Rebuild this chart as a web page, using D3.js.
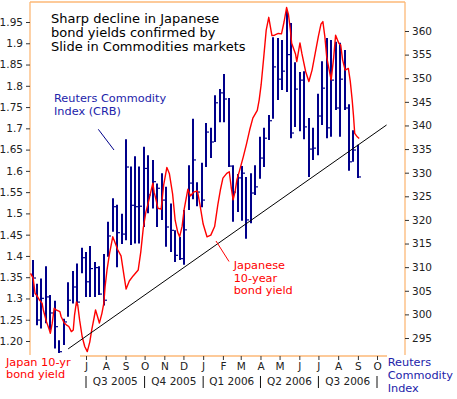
<!DOCTYPE html>
<html lang="en">
<head>
<meta charset="utf-8">
<title>Japanese bond yields vs Reuters Commodity Index</title>
<script src="https://cdn.jsdelivr.net/npm/d3@7"></script>
<style>
  body { margin: 0; background: #fff; }
  svg { display: block; font-family: "DejaVu Sans", Verdana, sans-serif; }
  .axis text { font-size: 10.5px; fill: #222; }
  .axis line { stroke: #333; }
</style>
</head>
<body>
<svg id="chart" width="457" height="399"></svg>
<script>
// ---- data ----
// Reuters Commodity Index, weekly (Fridays) high / low / close
const crbFirst = "2005-04-08";
const crbLast = "2006-09-01";
const crbHigh = [
  311.5, 306.5, 307.6, 310.2, 304.1, 302.9, 294.5, 299.1, 306.8, 309.2,
  310.8, 314.1, 313.2, 314.5, 311.1, 310.2, 312.8, 319.6, 324.6, 323.2,
  321.3, 337.1, 331.3, 333.5, 331.3, 335.5, 333.7, 332.7, 327.7, 329.9,
  327.0, 323.5, 317.8, 316.4, 322.1, 331.6, 341.4, 328.0, 332.1, 340.5,
  339.5, 346.4, 347.7, 350.9, 345.8, 331.6, 329.7, 331.4, 329.1, 329.9,
  331.6, 337.6, 339.5, 342.2, 358.7, 358.5, 358.1, 364.4, 361.7, 353.4,
  351.3, 351.5, 341.6, 339.5, 346.7, 353.6, 358.5, 358.1, 357.7, 357.5,
  356.0, 344.5, 339.0, 335.9];
const crbLow = [
  303.7, 297.7, 297.0, 298.1, 296.7, 292.8, 291.8, 293.5, 299.5, 302.3,
  301.9, 308.7, 303.7, 303.7, 303.7, 304.1, 301.9, 312.2, 317.5, 310.0,
  314.9, 315.7, 314.7, 315.0, 315.0, 318.5, 321.4, 322.4, 318.5, 320.0,
  314.3, 313.2, 311.1, 311.5, 310.5, 322.1, 324.4, 322.9, 322.7, 331.2,
  333.1, 336.5, 340.7, 340.7, 331.2, 319.6, 321.7, 319.8, 316.0, 319.3,
  325.3, 328.7, 331.2, 336.9, 341.4, 345.4, 347.5, 347.1, 337.3, 339.7,
  338.8, 337.1, 329.1, 332.7, 333.7, 340.1, 337.3, 337.6, 343.3, 337.6,
  343.3, 330.4, 332.3, 328.9];
const crbClose = [
  307.7, 298.8, 303.4, 303.7, 300.3, 297.4, 292.1, 298.4, 303.0, 305.8,
  302.6, 312.0, 306.9, 309.7, 309.9, 304.3, 303.0, 316.6, 322.8, 317.3,
  317.0, 331.2, 323.1, 322.8, 322.9, 330.9, 325.3, 328.1, 326.7, 324.2,
  318.5, 317.8, 312.5, 311.8, 317.9, 327.8, 332.7, 325.9, 324.2, 338.6,
  336.5, 344.8, 346.9, 345.6, 331.4, 325.9, 328.9, 329.9, 320.0, 325.7,
  327.0, 333.1, 337.3, 341.0, 352.4, 349.8, 351.5, 355.0, 338.4, 347.7,
  349.6, 339.7, 335.0, 335.2, 342.0, 347.9, 339.5, 349.6, 343.7, 349.8,
  343.7, 332.3, 334.8, 329.1];

// Japan 10-year bond yield
const yieldDates = [
  "2005-04-05","2005-04-09","2005-04-12","2005-04-16","2005-04-19","2005-04-23","2005-04-25","2005-04-30","2005-05-04","2005-05-06",
  "2005-05-09","2005-05-12","2005-05-15","2005-05-21","2005-05-23","2005-05-28","2005-05-31","2005-06-04","2005-06-08","2005-06-11",
  "2005-06-13","2005-06-16","2005-06-18","2005-06-21","2005-06-25","2005-06-29","2005-07-03","2005-07-07","2005-07-10","2005-07-14",
  "2005-07-16","2005-07-20","2005-07-22","2005-07-26","2005-07-29","2005-07-31","2005-08-03","2005-08-07","2005-08-12","2005-08-16",
  "2005-08-20","2005-08-25","2005-08-30","2005-09-02","2005-09-07","2005-09-13","2005-09-21","2005-09-25","2005-09-29","2005-10-03",
  "2005-10-06","2005-10-10","2005-10-14","2005-10-16","2005-10-19","2005-10-22","2005-10-27","2005-10-31","2005-11-05","2005-11-09",
  "2005-11-14","2005-11-18","2005-11-22","2005-11-25","2005-11-29","2005-12-02","2005-12-08","2005-12-12","2005-12-17","2005-12-23",
  "2005-12-27","2006-01-01","2006-01-07","2006-01-13","2006-01-19","2006-01-24","2006-01-28","2006-02-01","2006-02-07","2006-02-11",
  "2006-02-14","2006-02-17","2006-02-20","2006-02-23","2006-02-27","2006-03-05","2006-03-10","2006-03-15","2006-03-20","2006-03-27",
  "2006-03-30","2006-04-02","2006-04-06","2006-04-10","2006-04-14","2006-04-19","2006-04-23","2006-04-29","2006-05-04","2006-05-08",
  "2006-05-12","2006-05-15","2006-05-18","2006-05-20","2006-05-26","2006-05-28","2006-06-02","2006-06-05","2006-06-11","2006-06-16",
  "2006-06-21","2006-06-26","2006-07-01","2006-07-05","2006-07-08","2006-07-11","2006-07-14","2006-07-17","2006-07-21","2006-07-25",
  "2006-07-28","2006-08-02","2006-08-05","2006-08-08","2006-08-12","2006-08-17","2006-08-20","2006-08-23","2006-08-25","2006-08-27",
  "2006-08-31","2006-09-03"];
const yieldValues = [
  1.359, 1.348, 1.312, 1.304, 1.296, 1.289, 1.273, 1.245, 1.228, 1.218,
  1.242, 1.277, 1.273, 1.269, 1.257, 1.242, 1.238, 1.234, 1.222, 1.226,
  1.261, 1.292, 1.285, 1.249, 1.210, 1.187, 1.175, 1.198, 1.226, 1.257,
  1.273, 1.253, 1.242, 1.265, 1.289, 1.328, 1.367, 1.406, 1.445, 1.430,
  1.414, 1.400, 1.351, 1.322, 1.341, 1.353, 1.367, 1.409, 1.466, 1.503,
  1.520, 1.546, 1.571, 1.550, 1.532, 1.512, 1.510, 1.567, 1.608, 1.593,
  1.546, 1.484, 1.456, 1.445, 1.470, 1.508, 1.557, 1.541, 1.550, 1.553,
  1.520, 1.475, 1.445, 1.449, 1.469, 1.520, 1.555, 1.583, 1.594, 1.598,
  1.562, 1.532, 1.550, 1.579, 1.600, 1.633, 1.663, 1.696, 1.724, 1.742,
  1.767, 1.802, 1.865, 1.931, 1.961, 1.918, 1.919, 1.923, 1.922, 1.950,
  1.984, 1.967, 1.931, 1.900, 1.875, 1.857, 1.901, 1.876, 1.833, 1.810,
  1.837, 1.877, 1.917, 1.945, 1.951, 1.917, 1.868, 1.844, 1.814, 1.867,
  1.919, 1.900, 1.896, 1.861, 1.837, 1.841, 1.811, 1.767, 1.731, 1.688,
  1.680, 1.676];

// support line drawn on the CRB
const trendDates = ["2005-06-03", "2006-10-16"];
const trendValues = [292.7, 340.1];

// axis labels
const yieldTicks = ["1.95", "1.9", "1.85", "1.8", "1.75", "1.7", "1.65", "1.6",
                    "1.55", "1.5", "1.45", "1.4", "1.35", "1.3", "1.25", "1.20"];
const crbTicks = [360, 355, 350, 345, 340, 335, 330, 325, 320, 315, 310, 305, 300, 295];
const quarterStarts = ["2005-07-01", "2005-10-01", "2006-01-01", "2006-04-01", "2006-07-01", "2006-10-01"];
const quarterNames = ["Q3 2005", "Q4 2005", "Q1 2006", "Q2 2006", "Q3 2006"];

// ---- drawing ----
const parse = d3.timeParse("%Y-%m-%d");
const svg = d3.select("#chart");
const orange = "#fcb877";
const navy = "#00008a";
const blueText = "#2222aa";

const x = d3.scaleTime()
    .domain([parse("2005-07-01"), parse("2006-10-01")])
    .range([86, 377]);
const yYield = d3.scaleLinear().domain([1.20, 1.95]).range([341, 22]);
const yCrb = d3.scaleLinear().domain([295, 360]).range([338, 31]);

const weeks = d3.timeFriday.range(parse(crbFirst), d3.timeDay.offset(parse(crbLast), 1));
const bars = weeks.map((d, i) => ({date: d, hi: crbHigh[i], lo: crbLow[i], cl: crbClose[i]}));
const yieldData = yieldDates.map((d, i) => ({date: parse(d), v: yieldValues[i]}));

// frame
const frame = svg.append("g").attr("stroke", orange).attr("stroke-width", 1.3);
frame.append("line").attr("x1", 30).attr("y1", 2).attr("x2", 405).attr("y2", 2);
frame.append("line").attr("x1", 30).attr("y1", 2).attr("x2", 30).attr("y2", 355);
frame.append("line").attr("x1", 405).attr("y1", 2).attr("x2", 405).attr("y2", 355);
frame.append("line").attr("x1", 80).attr("y1", 356).attr("x2", 387).attr("y2", 356);

// axes
const leftAxis = svg.append("g").attr("class", "axis")
    .attr("transform", "translate(30,0)")
    .call(d3.axisLeft(yYield)
        .tickValues(yieldTicks.map(Number))
        .tickFormat((d, i) => yieldTicks[i])
        .tickSize(4).tickPadding(3));

const rightAxis = svg.append("g").attr("class", "axis")
    .attr("transform", "translate(405,0)")
    .call(d3.axisRight(yCrb).tickValues(crbTicks).tickSize(4).tickPadding(3));

const months = d3.timeMonth.range(parse("2005-07-01"), parse("2006-10-02"));
const bottomAxis = svg.append("g").attr("class", "axis")
    .attr("transform", "translate(0,356)")
    .call(d3.axisBottom(x).tickValues(months)
        .tickFormat(d => d3.timeFormat("%b")(d)[0])
        .tickSize(4).tickPadding(3));

[leftAxis, rightAxis, bottomAxis].forEach(g => {
  g.attr("font-family", null).attr("font-size", null);
  g.select(".domain").remove();
});

// quarters
const qs = quarterStarts.map(parse);
svg.append("g").selectAll("line").data(qs).join("line")
    .attr("x1", d => x(d)).attr("x2", d => x(d))
    .attr("y1", 376).attr("y2", 388)
    .attr("stroke", "#111");
svg.append("g").selectAll("text").data(quarterNames).join("text")
    .attr("x", (d, i) => (x(qs[i]) + x(qs[i + 1])) / 2)
    .attr("y", 385)
    .attr("text-anchor", "middle")
    .attr("font-size", 10.5)
    .attr("fill", "#222")
    .text(d => d);

// CRB high-low-close bars (snapped to whole pixels so the 2px stems stay crisp)
const bx = d => Math.round(x(d.date));
const barG = svg.append("g").attr("stroke", navy);
barG.selectAll("line.hl").data(bars).join("line").attr("class", "hl")
    .attr("x1", bx).attr("x2", bx)
    .attr("y1", d => yCrb(d.hi)).attr("y2", d => yCrb(d.lo))
    .attr("stroke-width", 2);
barG.selectAll("line.cl").data(bars).join("line").attr("class", "cl")
    .attr("x1", d => bx(d) - 1).attr("x2", d => bx(d) + 3)
    .attr("y1", d => yCrb(d.cl)).attr("y2", d => yCrb(d.cl))
    .attr("stroke-width", 1.2);

// bond yield
svg.append("path")
    .datum(yieldData)
    .attr("fill", "none")
    .attr("stroke", "#ff0000")
    .attr("stroke-width", 1.4)
    .attr("stroke-linejoin", "round")
    .attr("d", d3.line().x(d => x(d.date)).y(d => yYield(d.v)));

// trend line
svg.append("line")
    .attr("x1", x(parse(trendDates[0]))).attr("y1", yCrb(trendValues[0]))
    .attr("x2", x(parse(trendDates[1]))).attr("y2", yCrb(trendValues[1]))
    .attr("stroke", "#000").attr("stroke-width", 1);

// text blocks
function lines(xp, ys, strs, size, color) {
  const t = svg.append("g").attr("font-size", size).attr("fill", color);
  strs.forEach((s, i) => t.append("text").attr("x", xp).attr("y", ys[i]).text(s));
}
lines(51, [23.3, 37.3, 51], ["Sharp decline in Japanese", "bond yields confirmed by",
      "Slide in Commodities markets"], 13, "#000");
lines(54, [101.7, 115], ["Reuters Commodity", "Index (CRB)"], 11.3, blueText);
lines(233.7, [269, 281.7, 294.3], ["Japanese", "10-year", "bond yield"], 11.3, "#ff0000");
lines(6, [366, 378.3], ["Japan 10-yr", "bond yield"], 11.3, "#ff0000");
lines(387.7, [366, 379, 391.7], ["Reuters", "Commodity", "Index"], 11.3, blueText);

// pointers
svg.append("line").attr("x1", 98.3).attr("y1", 129.3).attr("x2", 114).attr("y2", 150)
    .attr("stroke", navy);
svg.append("line").attr("x1", 216).attr("y1", 241).attr("x2", 229).attr("y2", 261.5)
    .attr("stroke", "#ff0000");
</script>
</body>
</html>
